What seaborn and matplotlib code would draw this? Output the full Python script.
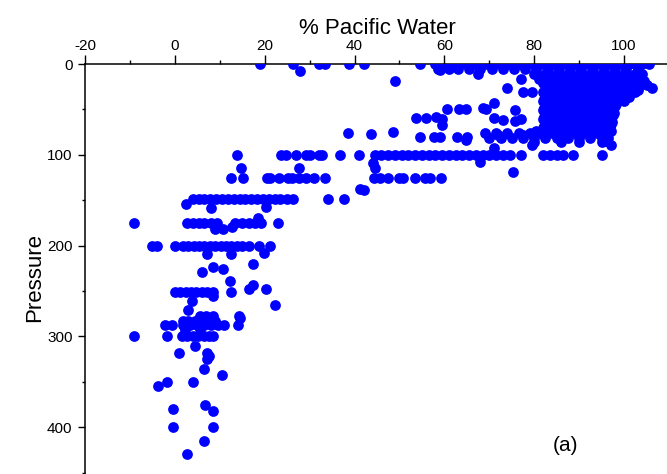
import matplotlib
matplotlib.use("Agg")
import matplotlib.pyplot as plt
import seaborn as sns
import pandas as pd
from matplotlib.ticker import MultipleLocator

# ---------------- data ----------------
# rows of points sharing (approximately) one pressure level
row_pressures = [0.5, 5, 11, 13.5, 16, 18.5, 21, 23.5, 26, 28.5, 31, 33.5, 36, 38.5, 41,
                 43.5, 46, 48.5, 51, 53.5, 56, 58.5, 61, 63.5, 66, 68.5, 71, 73.5, 76, 78.5,
                 81, 86, 100, 125, 149, 175, 200, 251, 277, 283, 287, 300]
row_pacific = [
    [19, 26.4, 32, 33.4, 38.8, 42.2, 54.6, 58, 59.5, 60.5, 62, 63.5, 65, 66.5, 68, 69.5, 71,
     72.5, 74, 75.5, 77, 78.5, 80, 81.5, 83, 84.5, 86, 87.5, 89, 90.5, 92, 93.5, 95, 96.5,
     98, 99.5, 101, 102.5, 104, 105.5],
    [58.5, 61, 63, 65.5, 68, 70.5, 73, 75.5, 78, 80.5, 83, 85.5, 88, 90.5, 93, 95.5, 98,
     100.5, 103],
    [80, 82.5, 85, 87.5, 90, 92.5, 95, 97.5, 100, 102.5, 104],
    [81.2, 83.7, 86.2, 88.7, 91.2, 93.7, 96.2, 98.7, 101.2, 103.5],
    [81, 83.5, 86, 88.5, 91, 93.5, 96, 98.5, 101, 103],
    [82.2, 84.7, 87.2, 89.7, 92.2, 94.7, 97.2, 99.7, 102.2, 104.5],
    [82, 84.5, 87, 89.5, 92, 94.5, 97, 99.5, 102, 104],
    [83.2, 85.7, 88.2, 90.7, 93.2, 95.7, 98.2, 100.7, 103.2, 105],
    [83, 85.5, 88, 90.5, 93, 95.5, 98, 100.5, 103, 106.2],
    [83.2, 85.7, 88.2, 90.7, 93.2, 95.7, 98.2, 100.7, 103],
    [82, 84.5, 87, 89.5, 92, 94.5, 97, 99.5, 102.5],
    [83.2, 85.7, 88.2, 90.7, 93.2, 95.7, 98.2, 100.7],
    [83, 85.5, 88, 90.5, 93, 95.5, 98, 101],
    [82.2, 84.7, 87.2, 89.7, 92.2, 94.7, 97.2, 99.7],
    [82, 84.5, 87, 89.5, 92, 94.5, 97, 100],
    [83.2, 85.7, 88.2, 90.7, 93.2, 95.7, 98.2],
    [83, 85.5, 88, 90.5, 93, 95.5, 98],
    [82.2, 84.7, 87.2, 89.7, 92.2, 94.7, 97.2],
    [82, 84.5, 87, 89.5, 92, 94.5, 97],
    [83.2, 85.7, 88.2, 90.7, 93.2, 95.7, 97.8],
    [83, 85.5, 88, 90.5, 93, 95.5, 97.5],
    [82.2, 84.7, 87.2, 89.7, 92.2, 94.7, 97],
    [82, 84.5, 87, 89.5, 92, 94.5, 97],
    [83.2, 85.7, 88.2, 90.7, 93.2, 95.7, 97.3],
    [83, 85.5, 88, 90.5, 93, 95.5, 97],
    [82.2, 84.7, 87.2, 89.7, 92.2, 94.7, 96.8],
    [82, 84.5, 87, 89.5, 92, 94.5, 96.5],
    [80.5, 83, 85.5, 88, 90.5, 93, 95.5, 97],
    [69, 71.5, 74, 76.5, 79, 81.5, 84, 86.5, 89, 91.5, 94, 96.5],
    [72, 77.5, 82.5, 85, 87.5, 90, 92.5, 95],
    [70, 72.5, 75, 77.5, 80, 82.5, 85, 87.5, 90, 92.5, 95, 96.5],
    [80, 86, 90, 95],
    [13.8, 23.7, 24.8, 27, 29.3, 30, 32, 32.7, 36.8, 41, 44.5, 46, 47.5, 49, 50.5, 52,
     53.5, 55, 56.5, 58, 59.5, 61, 62.5, 64, 65.5, 67, 68.5, 70, 71.5, 73, 74.5, 77, 82,
     83.5, 85, 86.5, 88.6, 95],
    [12.6, 15.2, 20.5, 21.2, 23.2, 25.2, 26, 27.7, 29.2, 31, 33.4, 44.3, 45.6, 47.4, 50,
     50.8, 53.4, 55.7, 56.8, 59.3],
    [4, 5.3, 6.6, 7.9, 9.2, 10.5, 11.8, 13.1, 14.4, 15.7, 17, 18.3, 19.6, 20.9, 22.2,
     23.5, 25, 26.3, 34, 37.6],
    [-9.2, 2.7, 4, 5.3, 6.6, 8, 9.4, 13.5, 15, 16.4, 17.8, 19.2, 23],
    [-5, -4, 0, 1.8, 3, 4.2, 5.4, 6.6, 7.8, 9, 10.2, 11.4, 12.6, 13.8, 15, 16.5, 18.7, 21.2],
    [0, 1.2, 2.4, 3.6, 4.8, 6, 7.2, 8.6],
    [5.6, 7, 8.6, 14.2],
    [1.8, 3, 4.5, 6, 7.5, 9],
    [-2.3, -0.7, 1.8, 3.4, 5, 6.6, 8, 9.5, 11, 14],
    [-9, -1.8, 1.6, 2.8, 4, 5.2, 6.4, 7.6, 8.6],
]

# isolated points
scatter_pacific = [27.8, 49, 67.5, 77, 59, 74, 77.5, 79.5, 71, 68.6, 75.7, 60.5, 63.2, 64.8,
                   69.3, 53.7, 56, 58.2, 59.4, 59.4, 71, 73, 75.7, 77, 38.5, 43.6, 48.5,
                   54.6, 57.6, 59, 62.8, 65, 64.8, 71, 79.5, 97, 96, 68, 44, 44.5, 14.8,
                   27.7, 75.3, 41.2, 42, 2.4, 8, 20.4, 18.5, 8.9, 10.7, 12.7, 7.2, 12.4,
                   19.9, 17.3, 8.6, 10.8, 6, 12.2, 17.5, 16.4, 20.2, 12.6, 8.6, 3.8, 22.2,
                   3, 14.6, 2.2, 5.6, 4.5, 0.9, 7.2, 7.7, 7.2, 6.5, 10.4, -1.8, 4, -3.8,
                   6.8, -0.5, 8.6, -0.5, 8.4, 6.5, 2.7]
scatter_pressure = [8, 19, 11, 17, 7, 26, 31, 31, 43, 48, 51, 49, 49, 49,
                    49, 59, 59, 58, 61, 67, 59, 62, 63, 61, 76, 77, 75,
                    80, 80, 80, 80, 80, 84, 92, 89, 89, 85, 108, 109, 115, 114,
                    115, 119, 138, 139, 154, 158, 157, 169, 182, 182, 179, 209, 209,
                    208, 220, 223, 226, 229, 239, 243, 248, 248, 251, 255, 261, 265,
                    271, 280, 293, 292, 310, 318, 318, 322, 325, 336, 342, 350, 350, 355,
                    375, 380, 382, 400, 400, 415, 429]

x_ticks = [-20, 0, 20, 40, 60, 80, 100]
y_ticks = [0, 100, 200, 300, 400]

# ---------------- build table ----------------
pac, pres = [], []
for p, xs in zip(row_pressures, row_pacific):
    pac.extend(xs)
    pres.extend([p] * len(xs))
pac.extend(scatter_pacific)
pres.extend(scatter_pressure)
df = pd.DataFrame({"Pacific": pac, "Pressure": pres})

# ---------------- plot ----------------
sns.set_theme(style="white")
plt.rcParams["font.family"] = ["Liberation Sans", "DejaVu Sans"]

W, H = 667, 474
fig = plt.figure(figsize=(W / 100, H / 100), dpi=100)
ax = fig.add_axes([85 / W, 1 - 490 / H, (669 - 85) / W, (490 - 64) / H])

sns.scatterplot(data=df, x="Pacific", y="Pressure", color="#0000ff", s=60,
                linewidth=0, alpha=1, ax=ax, legend=False, zorder=3)

ax.set_xlim(-20, 110)
ax.set_ylim(469, 0)

ax.xaxis.tick_top()
ax.xaxis.set_label_position("top")
ax.set_xticks(x_ticks)
ax.set_xticklabels([str(t) for t in x_ticks])
ax.xaxis.set_minor_locator(MultipleLocator(10))
ax.set_yticks(y_ticks)
ax.set_yticklabels([str(t) for t in y_ticks])
ax.yaxis.set_minor_locator(MultipleLocator(50))

ax.tick_params(axis="x", which="major", direction="out", length=6.5, width=1.0, pad=1.5,
               labelsize=11, top=True, bottom=False, labeltop=True, labelbottom=False,
               color="black", labelcolor="black")
ax.tick_params(axis="x", which="minor", direction="out", length=3, width=1.0,
               top=True, bottom=False, color="black")
ax.tick_params(axis="y", which="major", direction="out", length=5, width=1.0, pad=4,
               labelsize=11, left=True, color="black", labelcolor="black")
ax.tick_params(axis="y", which="minor", direction="out", length=2.5, width=1.0,
               left=True, color="black")

for side in ["right", "bottom"]:
    ax.spines[side].set_visible(False)
for side in ["top", "left"]:
    ax.spines[side].set_visible(True)
    ax.spines[side].set_color("black")
    ax.spines[side].set_linewidth(1.1)

ax.set_xlabel("% Pacific Water", fontsize=16, labelpad=3.5, color="black")
ax.set_ylabel("Pressure", fontsize=16, labelpad=1.5, color="black")
ax.grid(False)
ax.set_facecolor("white")

ax.text(87, 420, "(a)", fontsize=15, ha="center", va="center", color="black")

fig.savefig("out.png", dpi=100, facecolor="white")
